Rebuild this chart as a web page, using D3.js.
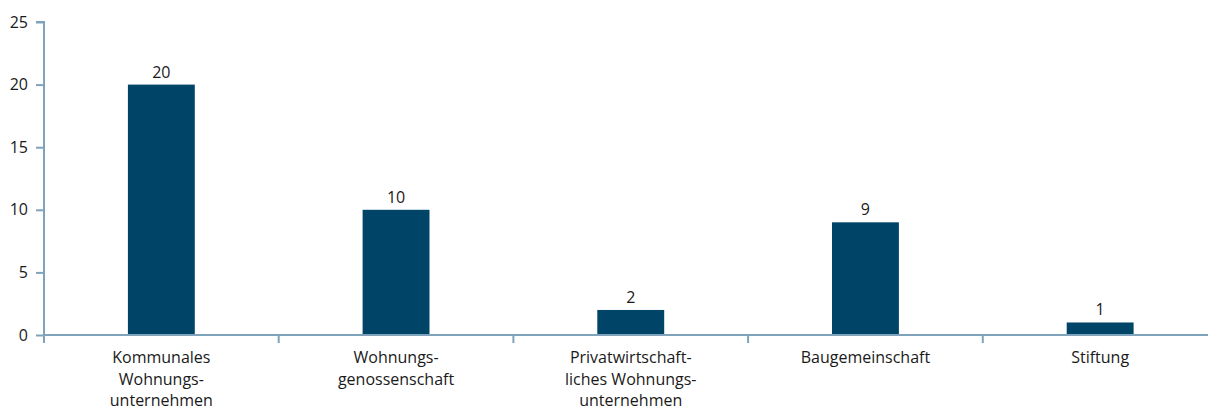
<!DOCTYPE html>
<html><head><meta charset="utf-8">
<script src="https://cdn.jsdelivr.net/npm/d3@7"></script>
<style>
body{margin:0;background:#fff;}
text{font-family:"Open Sans",sans-serif;fill:#1a1a1a;}
</style></head>
<body><svg id="c" width="1208" height="407"></svg>
<script>
const categories = [
  ["Kommunales","Wohnungs-","unternehmen"],
  ["Wohnungs-","genossenschaft"],
  ["Privatwirtschaft-","liches Wohnungs-","unternehmen"],
  ["Baugemeinschaft"],
  ["Stiftung"]
];
const values = [20, 10, 2, 9, 1];
const yTicks = [0, 5, 10, 15, 20, 25];

const svg = d3.select("#c");
const axisColor = "#7fa3ba";
const barColor = "#004468";
const x0 = 44, x1 = 1217.5, yTop = 22, yBot = 335;

const x = d3.scaleBand().domain(d3.range(values.length)).range([x0, x1]).paddingInner(0).paddingOuter(0);
const y = d3.scaleLinear().domain([0, 25]).range([yBot, yTop]);
const bw = x.bandwidth() * 0.285;

// y axis
const ya = svg.append("g").attr("transform", `translate(${x0},0)`)
  .call(d3.axisLeft(y).tickValues(yTicks).tickSize(8).tickPadding(8).tickFormat(d3.format("d")));
ya.select(".domain").attr("stroke", axisColor).attr("stroke-width", 2).attr("d", `M-8,${yTop}H0V${yBot}`);
ya.selectAll(".tick line").attr("stroke", axisColor).attr("stroke-width", 2);
ya.selectAll(".tick text").style("font-size", "16px").attr("fill", "#1a1a1a");

// bars
svg.selectAll("rect.bar").data(values).join("rect").attr("class", "bar")
  .attr("x", (d, i) => x(i) + x.bandwidth() / 2 - bw / 2)
  .attr("width", bw)
  .attr("y", d => y(d))
  .attr("height", d => y(0) - y(d))
  .attr("fill", barColor);

// x axis
svg.append("line").attr("x1", x0).attr("x2", x1).attr("y1", yBot).attr("y2", yBot)
  .attr("stroke", axisColor).attr("stroke-width", 2);
const seps = d3.range(values.length).map(i => x(i));
svg.selectAll("line.sep").data(seps).join("line").attr("class", "sep")
  .attr("x1", d => d).attr("x2", d => d).attr("y1", yBot).attr("y2", yBot + 8)
  .attr("stroke", axisColor).attr("stroke-width", 2);

// value labels
svg.selectAll("text.val").data(values).join("text").attr("class", "val")
  .attr("x", (d, i) => x(i) + x.bandwidth() / 2)
  .attr("y", d => y(d) - 7)
  .attr("text-anchor", "middle").style("font-size", "16px")
  .text(d => d);

// category labels
const cg = svg.selectAll("text.cat").data(categories).join("text").attr("class", "cat")
  .attr("text-anchor", "middle").style("font-size", "16px")
  .attr("x", (d, i) => x(i) + x.bandwidth() / 2)
  .attr("y", 363);
cg.selectAll("tspan").data(d => d).join("tspan")
  .attr("x", function(){ return this.parentNode.getAttribute("x"); })
  .attr("dy", (d, j) => j === 0 ? 0 : 21.5)
  .text(d => d);
</script></body></html>
